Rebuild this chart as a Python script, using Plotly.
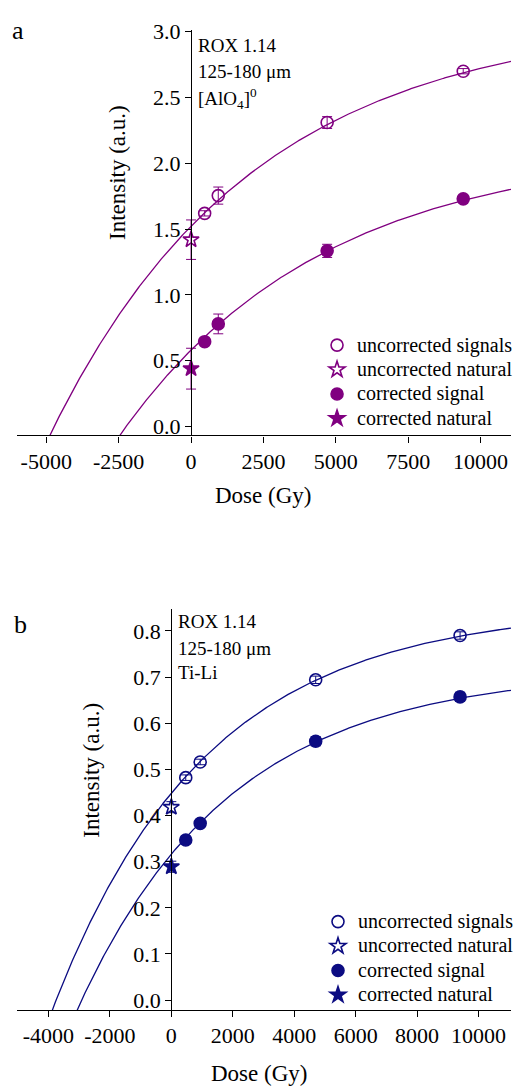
import numpy as np
import plotly.graph_objects as go

W, H = 519, 1090
FONT = "Liberation Serif"

# ---------------- panel a: [AlO4]0 centre ----------------
a_dose = [470, 940, 4700, 9400]
a_uncorr = [1.62, 1.755, 2.31, 2.70]
a_uncorr_err = [0.02, 0.065, 0.045, 0.02]
a_corr = [0.645, 0.78, 1.335, 1.73]
a_corr_err = [0.02, 0.075, 0.05, 0.02]
a_nat_uncorr = [1.42]
a_nat_uncorr_err = [0.15]
a_nat_corr = [0.44]
a_nat_corr_err = [0.155]
# saturating-exponential fits: I = A * (1 - exp(-(D + D0) / Dc))
a_fit_uncorr = [3.10, 4730, 7000]
a_fit_corr = [2.12, 2245, 7000]
a_xticks = [-5000, -2500, 0, 2500, 5000, 7500, 10000]
a_yticks = [0.0, 0.5, 1.0, 1.5, 2.0, 2.5, 3.0]

# ---------------- panel b: Ti-Li centre ----------------
b_dose = [470, 940, 4700, 9400]
b_uncorr = [0.482, 0.516, 0.694, 0.790]
b_uncorr_err = [0.006, 0.006, 0.008, 0.008]
b_corr = [0.347, 0.383, 0.561, 0.657]
b_corr_err = [0.008, 0.008, 0.010, 0.010]
b_nat_uncorr = [0.418]
b_nat_uncorr_err = [0.012]
b_nat_corr = [0.289]
b_nat_corr_err = [0.012]
b_fit_uncorr = [0.85, 3750, 5000]
b_fit_corr = [0.715, 2920, 5000]
b_xticks = [-4000, -2000, 0, 2000, 4000, 6000, 8000, 10000]
b_yticks = [0.0, 0.1, 0.2, 0.3, 0.4, 0.5, 0.6, 0.7, 0.8]

legend_names = ["uncorrected signals", "uncorrected natural",
                "corrected signal", "corrected natural"]

PURPLE = "#800080"
NAVY = "#0c0c82"


def fit_curve(params, x0, x1):
    A, D0, Dc = params
    d = np.linspace(x0, x1, 500)
    return d, A * (1 - np.exp(-(d + D0) / Dc))


fig = go.Figure()


def add_panel(xa, ya, leg, color, dose, unc, unc_e, cor, cor_e,
              nu, nu_e, nc, nc_e, fu, fc, xr):
    for p in (fu, fc):
        d, v = fit_curve(p, xr[0], xr[1])
        fig.add_trace(go.Scatter(x=d, y=v, mode="lines", xaxis=xa, yaxis=ya,
                                 line=dict(color=color, width=1.3),
                                 showlegend=False, hoverinfo="skip"))
    eb = lambda e: dict(type="data", array=e, color=color, thickness=1, width=5)
    items = [
        (dose, unc, unc_e, "circle-open", 12, legend_names[0]),
        ([0], nu, nu_e, "star-open", 12, legend_names[1]),
        (dose, cor, cor_e, "circle", 12, legend_names[2]),
        ([0], nc, nc_e, "star", 12, legend_names[3]),
    ]
    for x, y, e, sym, sz, name in items:
        fig.add_trace(go.Scatter(
            x=x, y=y, mode="markers", xaxis=xa, yaxis=ya, legend=leg,
            name='<span style="font-size:20px">%s</span>' % name,
            error_y=eb(e),
            marker=dict(symbol=sym, size=sz, color=color,
                        line=dict(color=color, width=1.6))))


XA_RANGE = [-6020, 11050]
XB_RANGE = [-5032, 11058]

add_panel("x", "y", "legend", PURPLE, a_dose, a_uncorr, a_uncorr_err,
          a_corr, a_corr_err, a_nat_uncorr, a_nat_uncorr_err,
          a_nat_corr, a_nat_corr_err, a_fit_uncorr, a_fit_corr, XA_RANGE)
add_panel("x2", "y2", "legend2", NAVY, b_dose, b_uncorr, b_uncorr_err,
          b_corr, b_corr_err, b_nat_uncorr, b_nat_uncorr_err,
          b_nat_corr, b_nat_corr_err, b_fit_uncorr, b_fit_corr, XB_RANGE)


def px(x):
    return x / W


def py(y):
    return 1 - y / H


tickfont = dict(family=FONT, size=22, color="black")
axis_common = dict(showline=True, linecolor="black", linewidth=1.2,
                   ticks="outside", ticklen=6, tickwidth=1.2, tickcolor="black",
                   showgrid=False, zeroline=False, tickfont=tickfont,
                   tickmode="array")


def int_labels(vals):
    return [str(v) for v in vals]


def dec_labels(vals):
    return ["%.1f" % v for v in vals]


legend_common = dict(xanchor="left", yanchor="top", bgcolor="rgba(0,0,0,0)",
                     font=dict(family=FONT, size=16.5, color="black"),
                     tracegroupgap=0, itemwidth=30, itemsizing="trace")

fig.update_layout(
    width=W, height=H, margin=dict(l=0, r=0, t=0, b=0),
    paper_bgcolor="white", plot_bgcolor="white",
    font=dict(family=FONT, color="black"),
    xaxis=dict(domain=[px(17), 1], range=XA_RANGE, anchor="y",
               tickvals=a_xticks, ticktext=int_labels(a_xticks), **axis_common),
    yaxis=dict(domain=[py(431), py(20)], range=[-0.0675, 3.015],
               anchor="free", position=px(194),
               tickvals=a_yticks, ticktext=dec_labels(a_yticks), **axis_common),
    xaxis2=dict(domain=[px(17), 1], range=XB_RANGE, anchor="y2",
                tickvals=b_xticks, ticktext=int_labels(b_xticks), **axis_common),
    yaxis2=dict(domain=[py(1013), py(607)], range=[-0.0214, 0.847],
                anchor="free", position=px(174),
                tickvals=b_yticks, ticktext=dec_labels(b_yticks), **axis_common),
    legend=dict(x=px(322), y=py(322), **legend_common),
    legend2=dict(x=px(323), y=py(906), **legend_common),
)

ann = []
txt = dict(family=FONT, size=19, color="black")
ttl = dict(family=FONT, size=23, color="black")
ann.append(dict(text="a", x=px(10), y=py(21), font=dict(family=FONT, size=26)))
ann.append(dict(text="b", x=px(12), y=py(622), font=dict(family=FONT, size=26)))
for t, yy in [("ROX 1.14", 36), ("125-180 μm", 62), ("[AlO<sub>4</sub>]<sup>0</sup>", 90)]:
    ann.append(dict(text=t, x=px(199), y=py(yy), font=txt))
for t, yy in [("ROX 1.14", 619), ("125-180 μm", 647), ("Ti-Li", 671)]:
    ann.append(dict(text=t, x=px(179), y=py(yy), font=txt))
ann.append(dict(text="Dose (Gy)", x=px(267), y=py(492), xanchor="center", font=ttl))
ann.append(dict(text="Dose (Gy)", x=px(263), y=py(1077), xanchor="center", font=ttl))
ann.append(dict(text="Intensity (a.u.)", x=px(120), y=py(165), xanchor="center",
                textangle=-90, font=ttl))
ann.append(dict(text="Intensity (a.u.)", x=px(93), y=py(770), xanchor="center",
                textangle=-90, font=ttl))
for a in ann:
    a.setdefault("xanchor", "left")
    a.update(xref="paper", yref="paper", yanchor="middle", showarrow=False)
fig.update_layout(annotations=ann)

fig.write_html("out.html")
